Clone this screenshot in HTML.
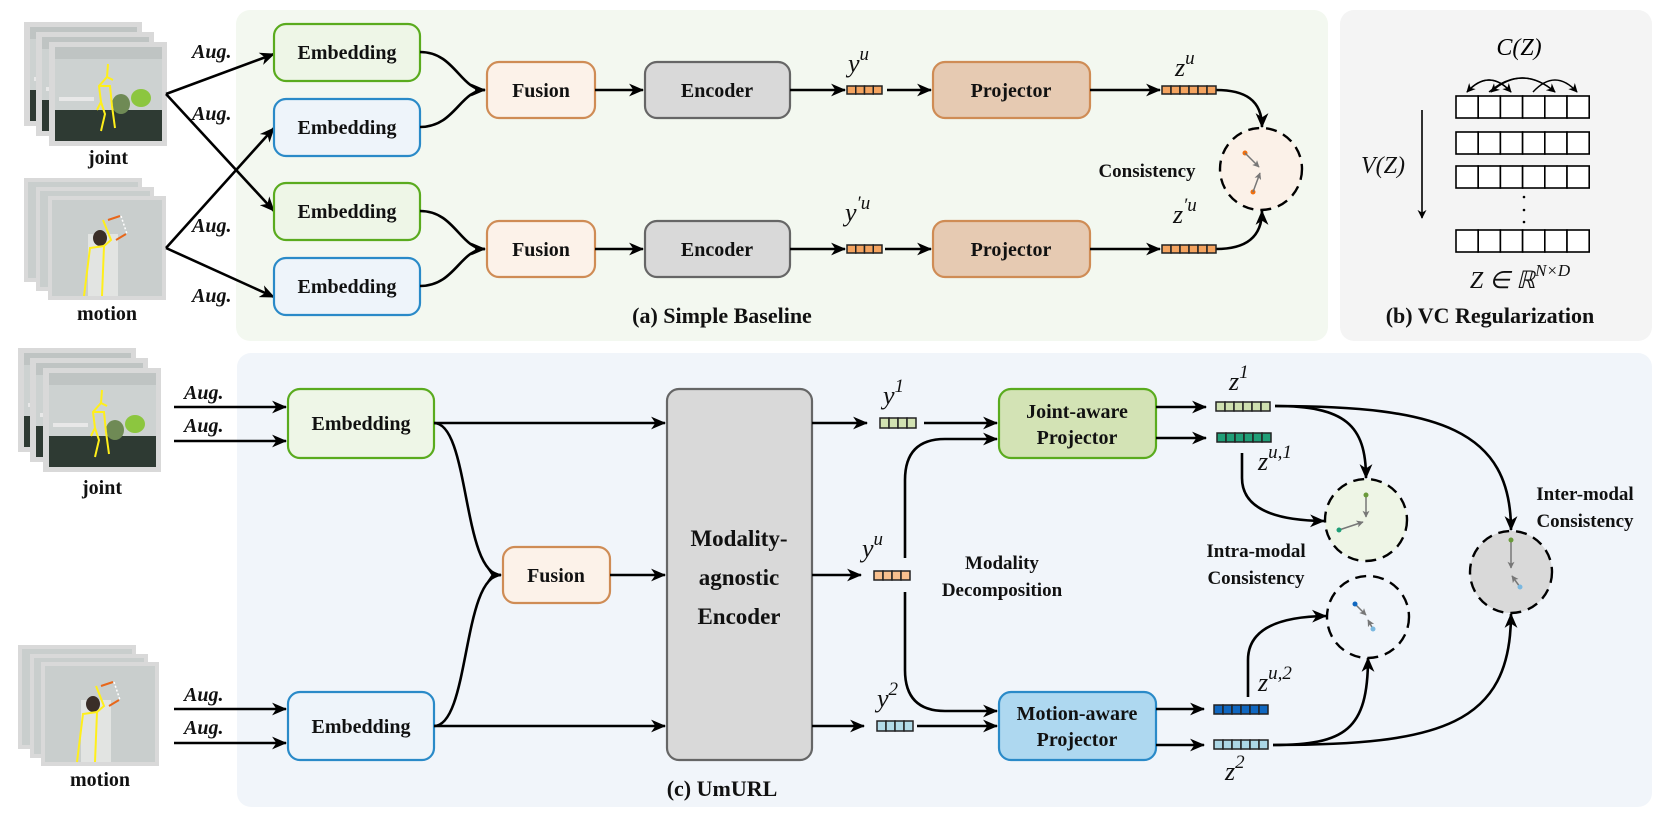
<!DOCTYPE html>
<html><head><meta charset="utf-8"><style>
html,body{margin:0;padding:0;background:#fff;}
svg{display:block;}
.b{font-family:"Liberation Serif",serif;font-weight:bold;fill:#111;}
.m{font-family:"Liberation Serif",serif;font-style:italic;fill:#111;}
.ln{fill:none;stroke:#000;stroke-width:2.6;}
</style></head><body>
<svg width="1660" height="816" viewBox="0 0 1660 816" xmlns="http://www.w3.org/2000/svg">
<defs>
<marker id="ah" viewBox="0 0 14 12" refX="13" refY="6" markerWidth="15" markerHeight="13" markerUnits="userSpaceOnUse" orient="auto">
<path d="M0,0 L14,6 L0,12 L4,6 Z" fill="#000"/>
</marker>
<marker id="ag" viewBox="0 0 10 10" refX="9" refY="5" markerWidth="7" markerHeight="7" markerUnits="userSpaceOnUse" orient="auto">
<path d="M0,0 L10,5 L0,10 L2.5,5 Z" fill="#777"/>
</marker>
<marker id="as" viewBox="0 0 10 10" refX="9" refY="5" markerWidth="9" markerHeight="9" markerUnits="userSpaceOnUse" orient="auto">
<path d="M0,0 L10,5 L0,10 L3,5 Z" fill="#000"/>
</marker>
<g id="jimg">
<rect x="0" y="0" width="118" height="104" fill="#d9d9d9"/>
<rect x="6" y="5" width="107" height="94" fill="#cdd2d1"/>
<rect x="6" y="5" width="107" height="12" fill="#bfc4c3"/>
<rect x="6" y="68" width="107" height="31" fill="#2e3a33"/>
<rect x="10" y="55" width="35" height="4" fill="#e8e8e8"/>
<ellipse cx="92" cy="56" rx="10" ry="9" fill="#8cc63f"/>
<ellipse cx="72" cy="62" rx="9" ry="10" fill="#6f8a55"/>
<path d="M59,22 L58,35 L64,38 M58,35 L50,44 L52,60 L48,68 M50,44 L61,44 L63,64 L66,86 M52,60 L56,72 L52,89" stroke="#ffef1a" stroke-width="2" fill="none"/>
</g>
<g id="mimg">
<rect x="0" y="0" width="118" height="104" fill="#d9d9d9"/>
<rect x="4" y="4" width="110" height="96" fill="#c9cecd"/>
<rect x="40" y="38" width="30" height="62" fill="#e2e4e2"/>
<ellipse cx="52" cy="42" rx="7" ry="8" fill="#3a2e28"/>
<path d="M55,24 L63,44 L56,50 L42,52 L36,100 M56,50 L54,100" stroke="#ffef1a" stroke-width="2" fill="none"/>
<path d="M72,20 L60,24 M78,38 L68,44" stroke="#e8671a" stroke-width="2"/>
<path d="M73,20 L79,38" stroke="#fff" stroke-dasharray="2 2" stroke-width="1.5"/>
</g>
</defs>

<!-- panels -->
<rect x="236" y="10" width="1092" height="331" rx="14" fill="#f3f8f0"/>
<rect x="1340" y="10" width="312" height="331" rx="14" fill="#f4f4f4"/>
<rect x="237" y="353" width="1415" height="454" rx="14" fill="#f1f5fa"/>

<!-- Panel a images -->
<use href="#jimg" x="24" y="22"/>
<use href="#jimg" x="36" y="32"/>
<use href="#jimg" x="49" y="42"/>
<text class="b" x="108" y="164" font-size="20" text-anchor="middle">joint</text>
<use href="#mimg" x="24" y="178"/>
<use href="#mimg" x="36" y="187"/>
<use href="#mimg" x="48" y="196"/>
<text class="b" x="107" y="320" font-size="20" text-anchor="middle">motion</text>

<g class="m" font-size="20" font-weight="bold">
<text x="192" y="58">Aug.</text><text x="192" y="120">Aug.</text>
<text x="192" y="232">Aug.</text><text x="192" y="302">Aug.</text>
</g>
<path class="ln" d="M166,94 L274,211" marker-end="url(#ah)"/>
<path class="ln" d="M166,94 L274,54" marker-end="url(#ah)"/>
<path class="ln" d="M166,248 L274,128" marker-end="url(#ah)"/>
<path class="ln" d="M166,248 L274,297" marker-end="url(#ah)"/>

<g stroke-width="2.2">
<rect x="274" y="24" width="146" height="57" rx="12" fill="#eef6e7" stroke="#5aab1e"/>
<rect x="274" y="99" width="146" height="57" rx="12" fill="#eef4fa" stroke="#2a8ac8"/>
<rect x="274" y="183" width="146" height="57" rx="12" fill="#eef6e7" stroke="#5aab1e"/>
<rect x="274" y="258" width="146" height="57" rx="12" fill="#eef4fa" stroke="#2a8ac8"/>
<rect x="487" y="62" width="108" height="56" rx="12" fill="#fcf2e9" stroke="#cf8c55"/>
<rect x="487" y="221" width="108" height="56" rx="12" fill="#fcf2e9" stroke="#cf8c55"/>
<rect x="645" y="62" width="145" height="56" rx="12" fill="#d9d9d9" stroke="#666"/>
<rect x="645" y="221" width="145" height="56" rx="12" fill="#d9d9d9" stroke="#666"/>
<rect x="933" y="62" width="157" height="56" rx="12" fill="#e6cab2" stroke="#cf8c55"/>
<rect x="933" y="221" width="157" height="56" rx="12" fill="#e6cab2" stroke="#cf8c55"/>
</g>
<g class="b" font-size="20" text-anchor="middle">
<text x="347" y="59">Embedding</text><text x="347" y="134">Embedding</text>
<text x="347" y="218">Embedding</text><text x="347" y="293">Embedding</text>
<text x="541" y="97">Fusion</text><text x="541" y="256">Fusion</text>
<text x="717" y="97">Encoder</text><text x="717" y="256">Encoder</text>
<text x="1011" y="97">Projector</text><text x="1011" y="256">Projector</text>
<text x="1147" y="177" font-size="19">Consistency</text>
<text x="722" y="323" font-size="22">(a) Simple Baseline</text>
<text x="1490" y="323" font-size="22">(b) VC Regularization</text>
</g>
<path class="ln" d="M420,52 C455,52 460,90 485,90" marker-end="url(#ah)"/>
<path class="ln" d="M420,127 C455,127 460,90 485,90"/>
<path class="ln" d="M420,211 C455,211 460,249 485,249" marker-end="url(#ah)"/>
<path class="ln" d="M420,286 C455,286 460,249 485,249"/>
<path class="ln" d="M595,90 H643" marker-end="url(#ah)"/>
<path class="ln" d="M595,249 H643" marker-end="url(#ah)"/>
<path class="ln" d="M790,90 H845" marker-end="url(#ah)"/>
<path class="ln" d="M790,249 H845" marker-end="url(#ah)"/>
<path class="ln" d="M887,90 H931" marker-end="url(#ah)"/>
<path class="ln" d="M885,249 H931" marker-end="url(#ah)"/>
<path class="ln" d="M1090,90 H1160" marker-end="url(#ah)"/>
<path class="ln" d="M1090,249 H1160" marker-end="url(#ah)"/>
<path class="ln" d="M1216,90 C1245,90 1262,100 1262,127" marker-end="url(#ah)"/>
<path class="ln" d="M1216,249 C1245,249 1262,238 1262,211" marker-end="url(#ah)"/>

<!-- vectors panel a -->
<g stroke="#222" stroke-width="1.5" fill="#f4a460">
<rect x="847" y="86" width="8.75" height="8"/><rect x="855.75" y="86" width="8.75" height="8"/><rect x="864.5" y="86" width="8.75" height="8"/><rect x="873.25" y="86" width="8.75" height="8"/>
<rect x="847" y="245" width="8.75" height="8"/><rect x="855.75" y="245" width="8.75" height="8"/><rect x="864.5" y="245" width="8.75" height="8"/><rect x="873.25" y="245" width="8.75" height="8"/>
<rect x="1162" y="86" width="9" height="8"/><rect x="1171" y="86" width="9" height="8"/><rect x="1180" y="86" width="9" height="8"/><rect x="1189" y="86" width="9" height="8"/><rect x="1198" y="86" width="9" height="8"/><rect x="1207" y="86" width="9" height="8"/>
<rect x="1162" y="245" width="9" height="8"/><rect x="1171" y="245" width="9" height="8"/><rect x="1180" y="245" width="9" height="8"/><rect x="1189" y="245" width="9" height="8"/><rect x="1198" y="245" width="9" height="8"/><rect x="1207" y="245" width="9" height="8"/>
</g>
<g class="m" font-size="26">
<text x="848" y="72">y<tspan font-size="19" dy="-12">u</tspan></text>
<text x="845" y="221">y<tspan font-size="19" dy="-12">′u</tspan></text>
<text x="1175" y="76">z<tspan font-size="19" dy="-12">u</tspan></text>
<text x="1173" y="223">z<tspan font-size="19" dy="-12">′u</tspan></text>
</g>
<circle cx="1261" cy="169" r="41" fill="#fbf1e8" stroke="#000" stroke-width="2.4" stroke-dasharray="11 7"/>
<circle cx="1245" cy="153" r="2.5" fill="#f07010"/><circle cx="1253" cy="192" r="2.5" fill="#f07010"/>
<path d="M1245,153 L1259,167" stroke="#777" stroke-width="1.5" marker-end="url(#ag)"/>
<path d="M1253,192 L1260,173" stroke="#777" stroke-width="1.5" marker-end="url(#ag)"/>

<!-- panel b -->
<text x="1519" y="55" font-size="24" text-anchor="middle" font-family="Liberation Serif, serif" font-style="italic">C(Z)</text>
<g fill="#fff" stroke="#000" stroke-width="1.6">
<g id="row"><rect x="1456" y="96" width="22.2" height="22"/><rect x="1478.2" y="96" width="22.2" height="22"/><rect x="1500.4" y="96" width="22.2" height="22"/><rect x="1522.6" y="96" width="22.2" height="22"/><rect x="1544.8" y="96" width="22.2" height="22"/><rect x="1567" y="96" width="22.2" height="22"/></g>
<use href="#row" y="36"/><use href="#row" y="70"/><use href="#row" y="134"/>
</g>
<g fill="#000"><circle cx="1524" cy="197" r="1.3"/><circle cx="1524" cy="210" r="1.3"/><circle cx="1524" cy="222" r="1.3"/></g>
<g fill="none" stroke="#000" stroke-width="1.4">
<path d="M1511,92 Q1489,68 1467,92" marker-end="url(#as)"/>
<path d="M1467,92 Q1489,68 1511,92" marker-end="url(#as)"/>
<path d="M1489,92 Q1522,64 1555,92" marker-end="url(#as)"/>
<path d="M1533,92 Q1555,68 1577,92" marker-end="url(#as)"/>
<path d="M1555,92 Q1522,64 1491,92" marker-end="url(#as)"/>
</g>
<path d="M1422,110 V218" stroke="#000" stroke-width="1.6" marker-end="url(#as)"/>
<text class="m" x="1383" y="173" font-size="24" text-anchor="middle">V(Z)</text>
<text class="m" x="1520" y="288" font-size="24" text-anchor="middle">Z ∈ ℝ<tspan font-size="17" dy="-12">N×D</tspan></text>

<!-- panel c images -->
<use href="#jimg" x="18" y="348"/>
<use href="#jimg" x="30" y="358"/>
<use href="#jimg" x="43" y="368"/>
<text class="b" x="102" y="494" font-size="20" text-anchor="middle">joint</text>
<use href="#mimg" x="18" y="645"/>
<use href="#mimg" x="30" y="654"/>
<use href="#mimg" x="41" y="662"/>
<text class="b" x="100" y="786" font-size="20" text-anchor="middle">motion</text>
<g class="m" font-size="20" font-weight="bold">
<text x="184" y="399">Aug.</text><text x="184" y="432">Aug.</text>
<text x="184" y="701">Aug.</text><text x="184" y="734">Aug.</text>
</g>
<path class="ln" d="M174,407 H286" marker-end="url(#ah)"/>
<path class="ln" d="M174,441 H286" marker-end="url(#ah)"/>
<path class="ln" d="M174,709 H286" marker-end="url(#ah)"/>
<path class="ln" d="M174,743 H286" marker-end="url(#ah)"/>

<g stroke-width="2.2">
<rect x="288" y="389" width="146" height="69" rx="12" fill="#eef6e7" stroke="#5aab1e"/>
<rect x="288" y="692" width="146" height="68" rx="12" fill="#eef4fa" stroke="#2a8ac8"/>
<rect x="503" y="547" width="107" height="56" rx="12" fill="#fcf2e9" stroke="#cf8c55"/>
<rect x="667" y="389" width="145" height="371" rx="12" fill="#d9d9d9" stroke="#666"/>
<rect x="999" y="389" width="157" height="69" rx="12" fill="#d3e3b5" stroke="#5aab1e"/>
<rect x="999" y="692" width="157" height="68" rx="12" fill="#aed8f0" stroke="#2a8ac8"/>
</g>
<g class="b" font-size="20" text-anchor="middle">
<text x="361" y="430">Embedding</text><text x="361" y="733">Embedding</text>
<text x="556" y="582">Fusion</text>
<text x="739" y="546" font-size="23">Modality-</text>
<text x="739" y="585" font-size="23">agnostic</text>
<text x="739" y="624" font-size="23">Encoder</text>
<text x="1077" y="418">Joint-aware</text><text x="1077" y="444">Projector</text>
<text x="1077" y="720">Motion-aware</text><text x="1077" y="746">Projector</text>
<text x="1002" y="569" font-size="19">Modality</text><text x="1002" y="596" font-size="19">Decomposition</text>
<text x="1256" y="557" font-size="19">Intra-modal</text><text x="1256" y="584" font-size="19">Consistency</text>
<text x="1585" y="500" font-size="19">Inter-modal</text><text x="1585" y="527" font-size="19">Consistency</text>
<text x="722" y="796" font-size="22">(c) UmURL</text>
</g>
<path class="ln" d="M434,423 H665" marker-end="url(#ah)"/>
<path class="ln" d="M434,726 H665" marker-end="url(#ah)"/>
<path class="ln" d="M434,423 C470,423 462,575 501,575" marker-end="url(#ah)"/>
<path class="ln" d="M434,726 C470,726 462,575 501,575"/>
<path class="ln" d="M610,575 H665" marker-end="url(#ah)"/>
<path class="ln" d="M812,423 H867" marker-end="url(#ah)"/>
<path class="ln" d="M812,575 H861" marker-end="url(#ah)"/>
<path class="ln" d="M812,726 H864" marker-end="url(#ah)"/>
<path class="ln" d="M924,423 H997" marker-end="url(#ah)"/>
<path class="ln" d="M917,726 H997" marker-end="url(#ah)"/>
<path class="ln" d="M905,558 V480 Q905,439 945,439 H997" marker-end="url(#ah)"/>
<path class="ln" d="M905,592 V670 Q905,711 945,711 H997" marker-end="url(#ah)"/>
<path class="ln" d="M1156,407 H1206" marker-end="url(#ah)"/>
<path class="ln" d="M1156,438 H1206" marker-end="url(#ah)"/>
<path class="ln" d="M1156,709 H1204" marker-end="url(#ah)"/>
<path class="ln" d="M1156,745 H1204" marker-end="url(#ah)"/>
<path class="ln" d="M1275,406 C1345,406 1366,425 1366,478" marker-end="url(#ah)"/>
<path class="ln" d="M1275,406 C1440,406 1511,430 1511,530" marker-end="url(#ah)"/>
<path class="ln" d="M1242,453 V478 Q1242,520 1324,521" marker-end="url(#ah)"/>
<path class="ln" d="M1248,697 V660 Q1248,617 1326,616" marker-end="url(#ah)"/>
<path class="ln" d="M1273,745 C1345,745 1368,730 1368,658" marker-end="url(#ah)"/>
<path class="ln" d="M1273,745 C1440,745 1511,725 1511,614" marker-end="url(#ah)"/>

<!-- vectors panel c -->
<g stroke="#222" stroke-width="1.5">
<g fill="#d2e2b2"><rect x="880" y="418" width="9" height="10"/><rect x="889" y="418" width="9" height="10"/><rect x="898" y="418" width="9" height="10"/><rect x="907" y="418" width="9" height="10"/></g>
<g fill="#f9c08e"><rect x="874" y="571" width="9" height="9"/><rect x="883" y="571" width="9" height="9"/><rect x="892" y="571" width="9" height="9"/><rect x="901" y="571" width="9" height="9"/></g>
<g fill="#b3dbe8"><rect x="877" y="721" width="9" height="10"/><rect x="886" y="721" width="9" height="10"/><rect x="895" y="721" width="9" height="10"/><rect x="904" y="721" width="9" height="10"/></g>
<g fill="#cfe0b0"><rect x="1216" y="402" width="9" height="9"/><rect x="1225" y="402" width="9" height="9"/><rect x="1234" y="402" width="9" height="9"/><rect x="1243" y="402" width="9" height="9"/><rect x="1252" y="402" width="9" height="9"/><rect x="1261" y="402" width="9" height="9"/></g>
<g fill="#1f9e77"><rect x="1217" y="433" width="9" height="9"/><rect x="1226" y="433" width="9" height="9"/><rect x="1235" y="433" width="9" height="9"/><rect x="1244" y="433" width="9" height="9"/><rect x="1253" y="433" width="9" height="9"/><rect x="1262" y="433" width="9" height="9"/></g>
<g fill="#1067c0"><rect x="1214" y="705" width="9" height="9"/><rect x="1223" y="705" width="9" height="9"/><rect x="1232" y="705" width="9" height="9"/><rect x="1241" y="705" width="9" height="9"/><rect x="1250" y="705" width="9" height="9"/><rect x="1259" y="705" width="9" height="9"/></g>
<g fill="#acd7e6"><rect x="1214" y="740" width="9" height="9"/><rect x="1223" y="740" width="9" height="9"/><rect x="1232" y="740" width="9" height="9"/><rect x="1241" y="740" width="9" height="9"/><rect x="1250" y="740" width="9" height="9"/><rect x="1259" y="740" width="9" height="9"/></g>
</g>
<g class="m" font-size="26">
<text x="883" y="404">y<tspan font-size="19" dy="-12">1</tspan></text>
<text x="862" y="557">y<tspan font-size="19" dy="-12">u</tspan></text>
<text x="877" y="707">y<tspan font-size="19" dy="-12">2</tspan></text>
<text x="1229" y="390">z<tspan font-size="19" dy="-12">1</tspan></text>
<text x="1258" y="470">z<tspan font-size="19" dy="-12">u,1</tspan></text>
<text x="1258" y="691">z<tspan font-size="19" dy="-12">u,2</tspan></text>
<text x="1225" y="780">z<tspan font-size="19" dy="-12">2</tspan></text>
</g>
<g stroke="#000" stroke-width="2.4" stroke-dasharray="11 7">
<circle cx="1366" cy="520" r="41" fill="#eef5e6"/>
<circle cx="1368" cy="617" r="41" fill="#f1f5fa"/>
<circle cx="1511" cy="572" r="41" fill="#d9d9d9"/>
</g>
<g stroke="#777" stroke-width="1.5">
<path d="M1366,495 V517" marker-end="url(#ag)"/>
<path d="M1339,530 L1363,522" marker-end="url(#ag)"/>
<path d="M1355,604 L1366,615" marker-end="url(#ag)"/>
<path d="M1373,629 L1368,620" marker-end="url(#ag)"/>
<path d="M1511,540 V568" marker-end="url(#ag)"/>
<path d="M1520,587 L1512,576" marker-end="url(#ag)"/>
</g>
<circle cx="1366" cy="495" r="2.5" fill="#6a9a3a"/><circle cx="1339" cy="530" r="2.5" fill="#1f9e77"/>
<circle cx="1355" cy="604" r="2.5" fill="#1067c0"/><circle cx="1373" cy="629" r="2.5" fill="#7bb8e0"/>
<circle cx="1511" cy="540" r="2.5" fill="#6a9a3a"/><circle cx="1520" cy="587" r="2.5" fill="#7bb8e0"/>
</svg>
</body></html>
